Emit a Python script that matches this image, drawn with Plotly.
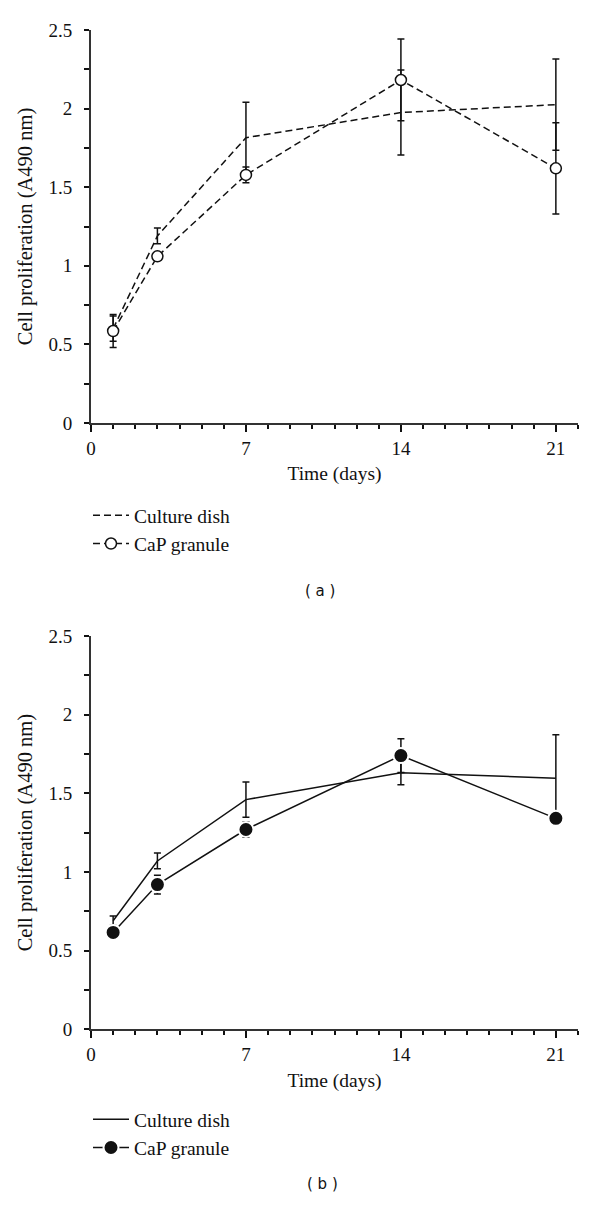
import plotly.graph_objects as go

# ---- data ----
days = [1, 3, 7, 14, 21]

a_dish = [0.60, 1.19, 1.815, 1.975, 2.025]
a_dish_err = [0.08, 0.05, 0.225, 0.27, 0.29]
a_cap = [0.585, 1.06, 1.578, 2.182, 1.62]
a_cap_err = [0.105, 0.02, 0.05, 0.26, 0.29]

b_dish = [0.69, 1.07, 1.46, 1.631, 1.596]
b_dish_err = [0.03, 0.05, 0.112, 0.076, 0.277]
b_cap = [0.616, 0.92, 1.27, 1.74, 1.341]
b_cap_err = [0.03, 0.06, 0.05, 0.107, 0.03]

x_tickvals = [0, 7, 14, 21]
x_ticktext = ["0", "7", "14", "21"]
y_tickvals = [0, 0.5, 1, 1.5, 2, 2.5]
y_ticktext = ["0", "0.5", "1", "1.5", "2", "2.5"]

series_names = ["Culture dish", "CaP granule"]
panel_labels = ["( a )", "( b )"]
x_title = "Time (days)"
y_title = "Cell proliferation (A490 nm)"

SERIF = "Liberation Serif"
INK = "#111111"

# page body has an 8px default margin; figure fills the rest of the window
OFF = 8
W, H = 600 - OFF, 1210 - OFF


def px(x):
    return (x - OFF) / W


def py(y):
    return 1 - (y - OFF) / H


fig = go.Figure()


def err(vals):
    return dict(type="data", array=vals, visible=True, color=INK,
                thickness=1.5, width=3.5)


# panel (a)
fig.add_trace(go.Scatter(
    x=days, y=a_dish, name=series_names[0], mode="lines",
    line=dict(color=INK, width=1.5, dash="7px,4px"),
    error_y=err(a_dish_err), xaxis="x", yaxis="y", legend="legend"))
fig.add_trace(go.Scatter(
    x=days, y=a_cap, name=series_names[1], mode="lines+markers",
    line=dict(color=INK, width=1.5, dash="7px,4px"),
    marker=dict(symbol="circle", size=11, color="white",
                line=dict(color=INK, width=1.5)),
    error_y=err(a_cap_err), xaxis="x", yaxis="y", legend="legend"))

# panel (b)
fig.add_trace(go.Scatter(
    x=days, y=b_dish, name=series_names[0], mode="lines",
    line=dict(color=INK, width=1.5),
    error_y=err(b_dish_err), xaxis="x2", yaxis="y2", legend="legend2"))
fig.add_trace(go.Scatter(
    x=days, y=b_cap, name=series_names[1], mode="lines+markers",
    line=dict(color=INK, width=1.5),
    marker=dict(symbol="circle", size=15, color=INK,
                line=dict(color="white", width=2)),
    error_y=err(b_cap_err), xaxis="x2", yaxis="y2", legend="legend2"))

x_dom = [px(91), px(578)]
ya_dom = [py(423), py(30)]
yb_dom = [py(1029.3), py(636)]

tickfont = dict(family=SERIF, size=19, color=INK)
xtitlefont = dict(family=SERIF, size=19.5, color=INK)
ytitlefont = dict(family=SERIF, size=20.5, color=INK)


def xaxis(anchor):
    return dict(
        domain=x_dom, anchor=anchor, range=[0, 22], automargin=False,
        tickmode="array", tickvals=x_tickvals, ticktext=x_ticktext,
        ticks="outside", ticklen=7, tickwidth=1.5, tickcolor=INK,
        minor=dict(dtick=1, tick0=0, ticks="outside", ticklen=4,
                   tickwidth=1.5, tickcolor=INK, showgrid=False),
        showline=True, linecolor="#333333", linewidth=2,
        showgrid=False, zeroline=False, tickfont=tickfont,
        title=dict(text=x_title, font=xtitlefont, standoff=9),
    )


def yaxis(anchor, dom):
    return dict(
        domain=dom, anchor=anchor, range=[0, 2.5], automargin=False,
        tickmode="array", tickvals=y_tickvals, ticktext=y_ticktext,
        ticks="outside", ticklen=5, tickwidth=1.5, tickcolor=INK,
        minor=dict(dtick=0.25, tick0=0, ticks="outside", ticklen=5,
                   tickwidth=1.5, tickcolor=INK, showgrid=False),
        showline=True, linecolor="#333333", linewidth=2,
        showgrid=False, zeroline=False, tickfont=tickfont,
        ticklabelstandoff=8,
        title=dict(text=y_title, font=ytitlefont, standoff=10),
    )


legend_common = dict(
    xanchor="left", yanchor="top", bgcolor="rgba(0,0,0,0)",
    font=dict(family=SERIF, size=19.5, color=INK),
    itemwidth=36, tracegroupgap=0, traceorder="normal",
)

fig.update_layout(
    width=W, height=H,
    margin=dict(l=0, r=0, t=0, b=0, autoexpand=False),
    paper_bgcolor="white", plot_bgcolor="white",
    showlegend=True,
    xaxis=xaxis("y"), yaxis=yaxis("x", ya_dom),
    xaxis2=xaxis("y2"), yaxis2=yaxis("x2", yb_dom),
    legend=dict(x=px(88), y=py(496), **legend_common),
    legend2=dict(x=px(88), y=py(1100), **legend_common),
    annotations=[
        dict(text=panel_labels[0], xref="paper", yref="paper",
             x=px(320), y=py(591), showarrow=False,
             font=dict(family="DejaVu Sans", size=15, color=INK)),
        dict(text=panel_labels[1], xref="paper", yref="paper",
             x=px(322), y=py(1195), showarrow=False,
             font=dict(family="DejaVu Sans", size=15, color=INK)),
    ],
)

fig.write_html("out.html")
